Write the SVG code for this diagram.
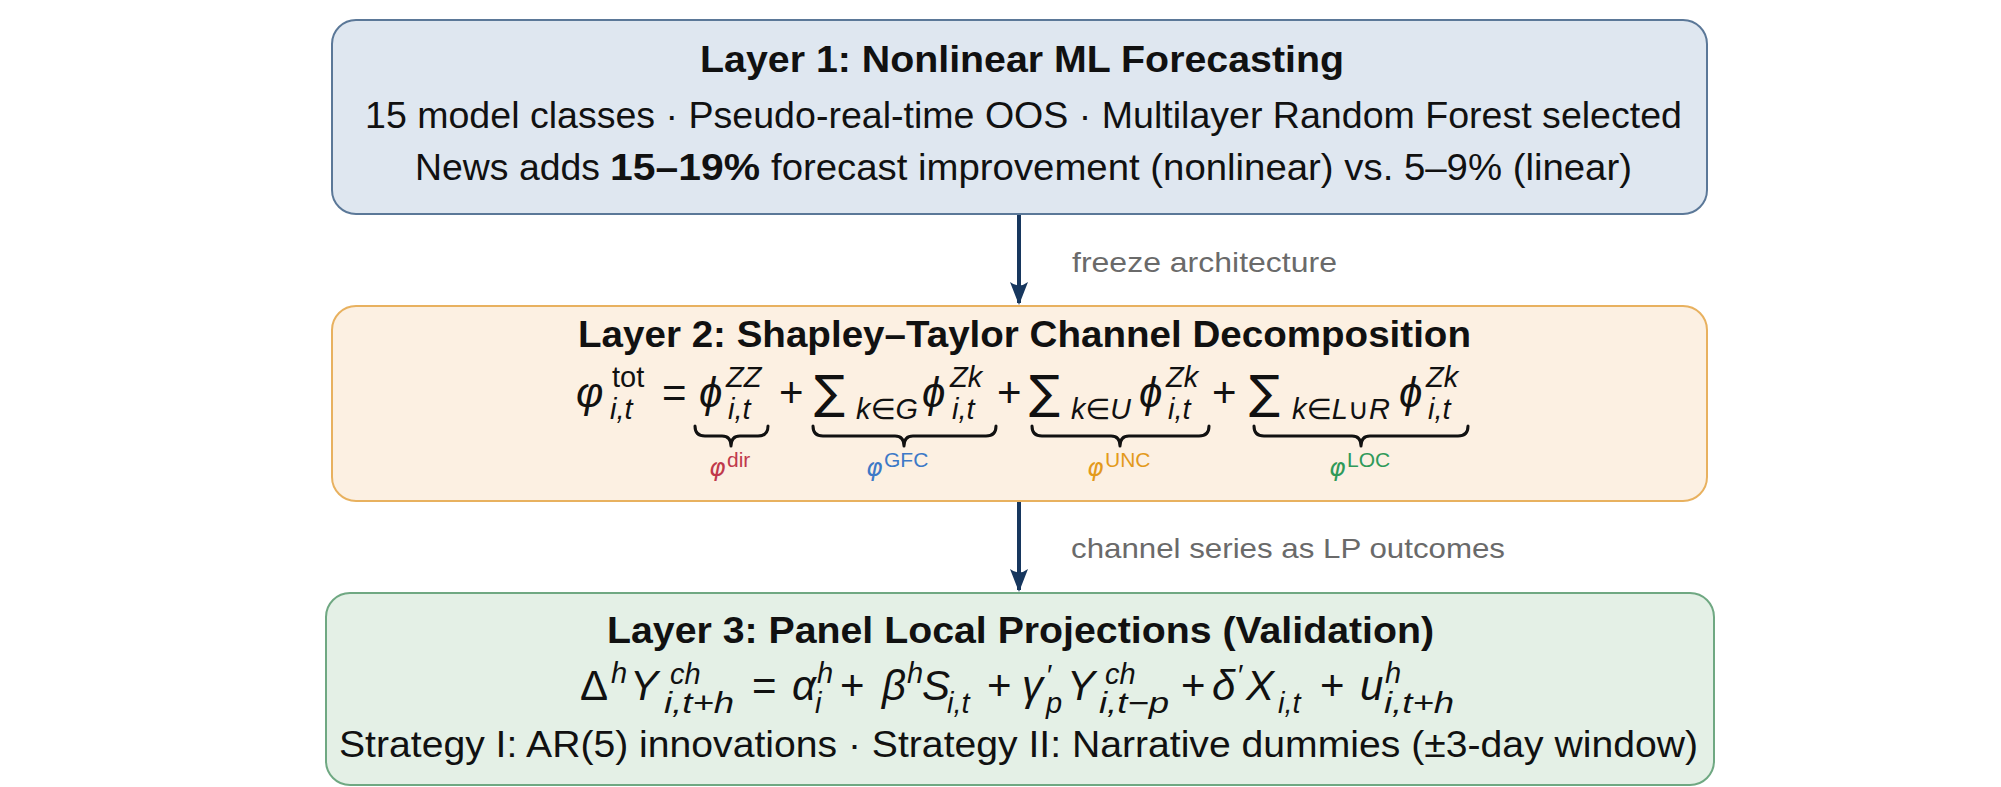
<svg xmlns="http://www.w3.org/2000/svg" width="2001" height="787" viewBox="0 0 2001 787">
<defs>
<style>
.t{font-family:"Liberation Sans","DejaVu Sans",sans-serif;font-size:37px;fill:#111}
.b{font-weight:bold}
.m{font-family:"Liberation Sans","DejaVu Sans",sans-serif;font-size:42px;fill:#111}
.mi{font-family:"Liberation Sans","DejaVu Sans",sans-serif;font-size:42px;font-style:italic;fill:#111}
.s{font-family:"Liberation Sans","DejaVu Sans",sans-serif;font-size:29px;fill:#111}
.si{font-family:"Liberation Sans","DejaVu Sans",sans-serif;font-size:29px;font-style:italic;fill:#111}
.sum{font-family:"DejaVu Sans",sans-serif;font-size:46px;fill:#111}
.lbl{font-family:"Liberation Sans","DejaVu Sans",sans-serif;font-size:28px;fill:#6a6a6a}
.brace{fill:none;stroke:#111;stroke-width:3;stroke-linecap:round;stroke-linejoin:round}
.lp{font-family:"DejaVu Sans",sans-serif;font-size:25px;font-style:italic}
.ls{font-family:"Liberation Sans","DejaVu Sans",sans-serif;font-size:21px}
.conn{stroke:#17375e;stroke-width:4;fill:none}
</style>
<marker id="ah" markerUnits="userSpaceOnUse" markerWidth="24" markerHeight="20" viewBox="0 0 24 20" refX="22" refY="10" orient="auto">
<path d="M24,10 L1,1 Q8,10 1,19 Z" fill="#17375e"/>
</marker>
</defs>

<g id="connectors">
<line class="conn" x1="1019" y1="215" x2="1019" y2="303" marker-end="url(#ah)"/>
<text class="lbl" x="1072" y="272" textLength="265" lengthAdjust="spacingAndGlyphs">freeze architecture</text>
<line class="conn" x1="1019" y1="501" x2="1019" y2="590" marker-end="url(#ah)"/>
<text class="lbl" x="1071" y="558" textLength="434" lengthAdjust="spacingAndGlyphs">channel series as LP outcomes</text>
</g>

<g id="layer1">
<rect x="332" y="20" width="1375" height="194" rx="24" fill="#dfe7f0" stroke="#5b7898" stroke-width="2"/>
<text class="t b" x="700" y="72" textLength="644" lengthAdjust="spacingAndGlyphs">Layer 1:  Nonlinear ML Forecasting</text>
<text class="t" x="365" y="128" textLength="1317" lengthAdjust="spacingAndGlyphs">15 model classes · Pseudo-real-time OOS · Multilayer Random Forest selected</text>
<text class="t" x="415" y="180" textLength="185" lengthAdjust="spacingAndGlyphs">News adds</text>
<text class="t b" x="610" y="180" textLength="150" lengthAdjust="spacingAndGlyphs">15–19%</text>
<text class="t" x="771" y="180" textLength="861" lengthAdjust="spacingAndGlyphs">forecast improvement (nonlinear) vs. 5–9% (linear)</text>
</g>

<g id="layer2">
<rect x="332" y="306" width="1375" height="195" rx="24" fill="#fcf0e2" stroke="#e8b15f" stroke-width="2"/>
<text class="t b" x="578" y="347" textLength="893" lengthAdjust="spacingAndGlyphs">Layer 2:  Shapley–Taylor Channel Decomposition</text>
<text class="mi" x="576" y="407">φ</text>
<text class="s" x="612" y="387">tot</text>
<text class="si" x="610" y="419">i,t</text>
<text class="m" x="662" y="407">=</text>
<text class="mi" x="699" y="407">ϕ</text>
<text class="si" x="726" y="387">ZZ</text>
<text class="si" x="728" y="419">i,t</text>
<text class="m" x="779" y="407">+</text>
<text class="sum" x="814" y="408">∑</text>
<text class="si" x="856" y="419" textLength="62" lengthAdjust="spacingAndGlyphs">k∈G</text>
<text class="mi" x="922" y="407">ϕ</text>
<text class="si" x="950" y="387">Zk</text>
<text class="si" x="952" y="419">i,t</text>
<text class="m" x="997" y="407">+</text>
<text class="sum" x="1029" y="408">∑</text>
<text class="si" x="1071" y="419" textLength="60" lengthAdjust="spacingAndGlyphs">k∈U</text>
<text class="mi" x="1139" y="407">ϕ</text>
<text class="si" x="1166" y="387">Zk</text>
<text class="si" x="1168" y="419">i,t</text>
<text class="m" x="1212" y="407">+</text>
<text class="sum" x="1249" y="408">∑</text>
<text class="si" x="1292" y="419" textLength="98" lengthAdjust="spacingAndGlyphs">k∈L∪R</text>
<text class="mi" x="1399" y="407">ϕ</text>
<text class="si" x="1426" y="387">Zk</text>
<text class="si" x="1428" y="419">i,t</text>
<path class="brace" d="M695,426 Q695,436 705,436 L722,436 Q731,436 731,446 Q731,436 740,436 L758,436 Q768,436 768,426"/>
<path class="brace" d="M813,426 Q813,436 823,436 L895,436 Q904,436 904,446 Q904,436 913,436 L986,436 Q996,436 996,426"/>
<path class="brace" d="M1032,426 Q1032,436 1042,436 L1111,436 Q1120,436 1120,446 Q1120,436 1129,436 L1199,436 Q1209,436 1209,426"/>
<path class="brace" d="M1254,426 Q1254,436 1264,436 L1352,436 Q1361,436 1361,446 Q1361,436 1370,436 L1458,436 Q1468,436 1468,426"/>
<g fill="#c0394b"><text class="lp" x="709" y="476">φ</text><text class="ls" x="727" y="467">dir</text></g>
<g fill="#3d79c7"><text class="lp" x="866" y="476">φ</text><text class="ls" x="884" y="467">GFC</text></g>
<g fill="#e39a1c"><text class="lp" x="1087" y="476">φ</text><text class="ls" x="1105" y="467">UNC</text></g>
<g fill="#2f9a5a"><text class="lp" x="1329" y="476">φ</text><text class="ls" x="1347" y="467">LOC</text></g>
</g>

<g id="layer3">
<rect x="326" y="593" width="1388" height="192" rx="24" fill="#e4f0e6" stroke="#6fa882" stroke-width="2"/>
<text class="t b" x="607" y="643" textLength="827" lengthAdjust="spacingAndGlyphs">Layer 3:  Panel Local Projections (Validation)</text>
<text class="m" x="580" y="700">Δ</text>
<text class="si" x="611" y="683">h</text>
<text class="mi" x="630" y="700">Y</text>
<text class="si" x="670" y="684">ch</text>
<text class="si" x="664" y="713" textLength="70" lengthAdjust="spacingAndGlyphs">i,t+h</text>
<text class="m" x="752" y="700">=</text>
<text class="mi" x="792" y="700">α</text>
<text class="si" x="817" y="683">h</text>
<text class="si" x="815" y="713">i</text>
<text class="m" x="840" y="700">+</text>
<text class="mi" x="882" y="700">β</text>
<text class="si" x="907" y="683">h</text>
<text class="mi" x="922" y="700">S</text>
<text class="si" x="947" y="713">i,t</text>
<text class="m" x="987" y="700">+</text>
<text class="mi" x="1022" y="700">γ</text>
<text class="s" x="1047" y="685">′</text>
<text class="si" x="1046" y="713">p</text>
<text class="mi" x="1067" y="700">Y</text>
<text class="si" x="1105" y="684">ch</text>
<text class="si" x="1099" y="713" textLength="70" lengthAdjust="spacingAndGlyphs">i,t−p</text>
<text class="m" x="1181" y="700">+</text>
<text class="mi" x="1212" y="700">δ</text>
<text class="s" x="1238" y="685">′</text>
<text class="mi" x="1246" y="700">X</text>
<text class="si" x="1278" y="713">i,t</text>
<text class="m" x="1320" y="700">+</text>
<text class="mi" x="1360" y="700">u</text>
<text class="si" x="1385" y="683">h</text>
<text class="si" x="1384" y="713" textLength="70" lengthAdjust="spacingAndGlyphs">i,t+h</text>
<text class="t" x="339" y="757" textLength="1359" lengthAdjust="spacingAndGlyphs">Strategy I: AR(5) innovations · Strategy II: Narrative dummies (±3-day window)</text>
</g>
</svg>
